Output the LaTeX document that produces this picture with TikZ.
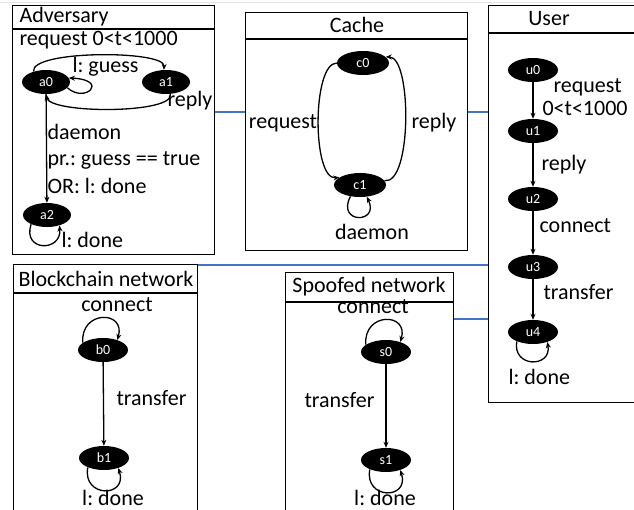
\documentclass[tikz,border=0pt]{standalone}
\usepackage{fontspec}
\setmainfont{Carlito}
\usetikzlibrary{shapes.geometric,arrows.meta}
\definecolor{linkblue}{RGB}{68,114,196}
\frenchspacing

\begin{document}
\begin{tikzpicture}[x=1pt,y=-1pt,
    every node/.style={font=\fontsize{22}{26}\selectfont},
    state/.style={ellipse,fill=black,text=white,inner sep=0pt,
        minimum width=50pt,minimum height=24pt,font=\fontsize{14}{14}\selectfont},
    box/.style={draw,line width=1.4pt,inner sep=0pt,anchor=north west},
    frame/.style={line width=1.4pt},
    trans/.style={line width=1.3pt,-{Stealth[length=6pt,width=5pt]}},
    link/.style={draw=linkblue,line width=1.6pt}]
    \clip (0,0) rectangle (634,509);
    \draw[gray!20,line width=0.8pt] (0,2) -- (634,2);
    % modules
    \node[box,minimum width=202pt,minimum height=249pt] (adv) at (12,5) {};
    \node[box,minimum width=222pt,minimum height=238pt] (cache) at (245,12) {};
    \node[box,minimum width=180pt,minimum height=397pt] (user) at (488,5) {};
    \node[box,minimum width=184pt,minimum height=280pt] (chain) at (13,264) {};
    \node[box,minimum width=168pt,minimum height=270pt] (spoof) at (285,272) {};
    \draw[frame] (adv.west |- 0,29) -- (adv.east |- 0,29);
    \draw[frame] (cache.west |- 0,39) -- (cache.east |- 0,39);
    \draw[frame] (user.west |- 0,33) -- (user.east |- 0,33);
    \draw[frame] (chain.west |- 0,293) -- (chain.east |- 0,293);
    \draw[frame] (spoof.west |- 0,302) -- (spoof.east |- 0,302);
    \node[anchor=west] (advt) at (16,17) {Adversary};
    \node (cachet) at (357,25) {Cache};
    \node (usert) at (549,19) {User};
    \node (chaint) at (106,279) {Blockchain network};
    \node (spooft) at (369,287) {Spoofed network};
    % links
    \draw[link] (adv.east |- 0,112) -- (cache.west |- 0,112);
    \draw[link] (cache.east |- 0,112) -- (user.west |- 0,112);
    \draw[link] (chain.east |- 0,265) -- (user.west |- 0,265);
    \draw[link] (spoof.east |- 0,319) -- (user.west |- 0,319);

    % Adversary
    \node[state,minimum width=48pt] (a0) at (46,82) {a0};
    \node[state,minimum width=48pt] (a1) at (166,82) {a1};
    \node[state,minimum width=48pt] (a2) at (47,215) {a2};
    \draw[trans] (a0.140) .. controls (30,50) and (165,50) .. (a1.100);
    \draw[trans] (a1.-70) .. controls (175,114) and (50,114) .. (a0.-90);
    \draw[trans] (a0.-15) .. controls (85,104) and (110,80) .. (a0.10);
    \draw[trans] (a0) -- (a2);
    \draw[trans] (a2.-150) .. controls (22,252) and (62,252) .. (a2.-40);
    \node[anchor=west] (areq) at (16,40) {request 0<t<1000};
    \node[anchor=west] (aguess) at (69,67) {l: guess};
    \node[anchor=west] (arep) at (164,101) {reply};
    \node[anchor=west] (adae) at (44,132) {daemon};
    \node[anchor=west] (apr) at (44,160) {pr.: guess == true};
    \node[anchor=west] (aor) at (44,186) {OR: l: done};
    \node[anchor=west] (adone) at (58,240) {l: done};

    % Cache
    \node[state,minimum width=52pt] (c0) at (363,63) {c0};
    \node[state,minimum width=52pt] (c1) at (360,185) {c1};
    \draw[trans] (c0.180) .. controls (312,63) and (312,180) .. (c1.160);
    \draw[trans] (c1.10) .. controls (412,185) and (412,57) .. (c0.15);
    \draw[trans] (c1.-130) .. controls (336,224) and (380,224) .. (c1.-60);
    \node (creq) at (283,123) {request};
    \node (crep) at (434,123) {reply};
    \node (cdae) at (372,232) {daemon};

    % User
    \node[state] (u0) at (533,70) {u0};
    \node[state] (u1) at (533,131) {u1};
    \node[state] (u2) at (533,199) {u2};
    \node[state] (u3) at (533,267) {u3};
    \node[state] (u4) at (533,332) {u4};
    \draw[trans] (u0) -- (u1);
    \draw[trans] (u1) -- (u2);
    \draw[trans] (u2) -- (u3);
    \draw[trans] (u3) -- (u4);
    \draw[trans] (u4.-150) .. controls (512,368) and (552,368) .. (u4.-35);
    \node[anchor=west] (ureq) at (550,87) {request};
    \node[anchor=west] (utime) at (539,108) {0<t<1000};
    \node[anchor=west] (urep) at (538,165) {reply};
    \node[anchor=west] (ucon) at (536,226) {connect};
    \node[anchor=west] (utra) at (540,292) {transfer};
    \node[anchor=west] (udone) at (505,377) {l: done};

    % Blockchain network
    \node[state] (b0) at (103,350) {b0};
    \node[state] (b1) at (104,458) {b1};
    \draw[trans] (b0.160) .. controls (80,310) and (126,310) .. (b0.35);
    \draw[trans] (b0) -- (b1);
    \draw[trans] (b1.-150) .. controls (82,498) and (128,498) .. (b1.-35);
    \node (bcon) at (117,305) {connect};
    \node[anchor=west] (btra) at (113,398) {transfer};
    \node (bdone) at (113,498) {l: done};

    % Spoofed network
    \node[state] (s0) at (386,352) {s0};
    \node[state] (s1) at (386,460) {s1};
    \draw[trans] (s0.160) .. controls (363,312) and (409,312) .. (s0.35);
    \draw[trans] (s0) -- (s1);
    \draw[trans] (s1.-150) .. controls (364,500) and (410,500) .. (s1.-35);
    \node (scon) at (373,307) {connect};
    \node[anchor=west] (stra) at (301,400) {transfer};
    \node (sdone) at (385,498) {l: done};
\end{tikzpicture}
\end{document}
